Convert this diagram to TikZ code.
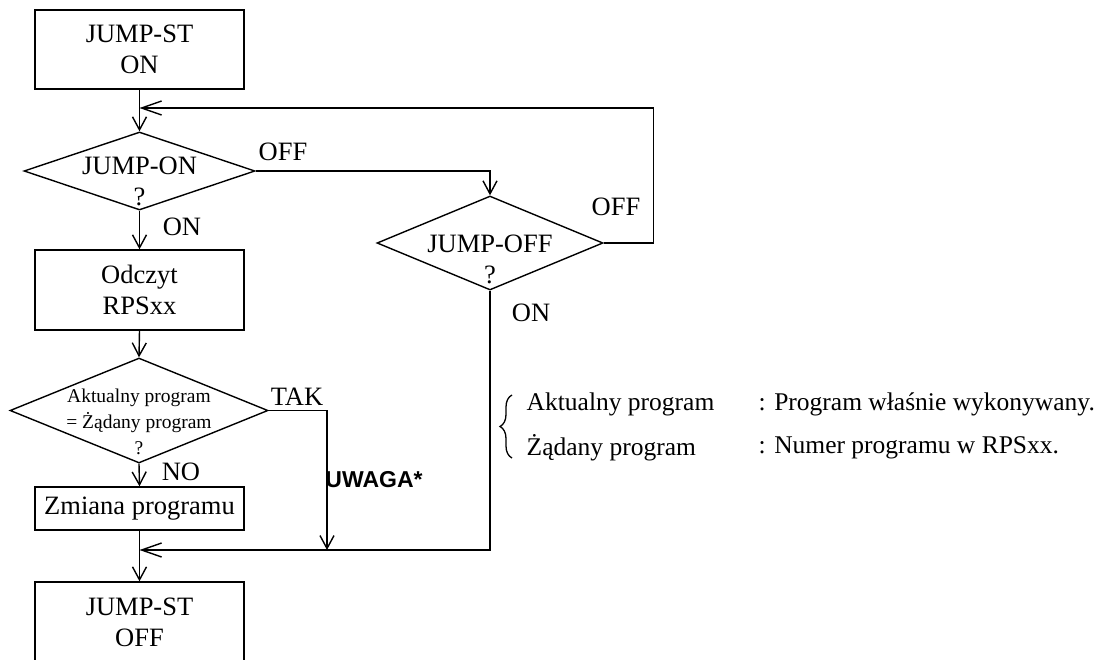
\documentclass[tikz,border=0pt]{standalone}
\usepackage{fontspec}
\setmainfont{Liberation Serif}
\newfontfamily\notefont{Liberation Sans}
\usetikzlibrary{shapes.geometric, arrows.meta, decorations.pathreplacing}

\begin{document}
\begin{tikzpicture}[x=1pt, y=-1pt, line width=1.4pt,
    box/.style={draw, rectangle, minimum width=209pt, inner sep=0pt, align=center, font=\fontsize{26.5}{31}\selectfont},
    decision/.style={draw, diamond, inner sep=0pt},
    dectext/.style={align=center, inner sep=0pt, font=\fontsize{26.5}{31}\selectfont},
    flowlabel/.style={inner sep=0pt, font=\fontsize{26.5}{31}\selectfont},
    legendtext/.style={inner sep=0pt, anchor=west, font=\fontsize{25.5}{30}\selectfont},
    flowarrow/.style={-{Straight Barb[length=13pt, width=14pt]}},
    mergearrow/.style={-{Straight Barb[length=20pt, width=14pt]}}]
    \useasboundingbox (0,0) rectangle (1103,659);

    % main column
    \node[box, minimum height=79pt] (start) at (139.5,49.5) {JUMP-ST\\ON};
    \coordinate (loopin) at (139.5,108);
    \node[decision, minimum width=231pt, minimum height=78pt] (jumpon) at (139.5,171) {};
    \node[dectext, yshift=-10pt] (jumpontxt) at (jumpon) {JUMP-ON\\?};
    \node[box, minimum height=80pt] (read) at (139.5,290) {Odczyt\\RPSxx};
    \node[decision, minimum width=258pt, minimum height=105pt] (prog) at (139,410.5) {};
    \node[dectext, yshift=-11pt, font=\fontsize{19.5}{26}\selectfont] (progtxt) at (prog) {Aktualny program\\= Żądany program\\?};
    \node[box, minimum height=43pt] (change) at (139.5,508.5) {Zmiana programu};
    \coordinate (merge) at (139.5,550);
    \node[box, minimum height=80pt] (stop) at (139.5,622) {JUMP-ST\\OFF};

    % side branch
    \node[decision, minimum width=226pt, minimum height=94pt] (jumpoff) at (490,243) {};
    \node[dectext, yshift=-16pt] (jumpofftxt) at (jumpoff) {JUMP-OFF\\?};
    \coordinate (takend) at (327,550);

    \draw[flowarrow] (start.south) -- (jumpon.north);
    \draw[flowarrow] (jumpon.south) -- (read.north);
    \draw[flowarrow] (read.south) -- (prog.north);
    \draw[flowarrow] (prog.south) -- (change.north);
    \draw[flowarrow] (change.south) -- (stop.north);
    \draw[flowarrow] (jumpon.east) -| (jumpoff.north);
    \draw[mergearrow] (jumpoff.east) -- ++(50,0) |- (loopin);
    \draw[mergearrow] (jumpoff.south) |- (merge);
    \draw[flowarrow] (prog.east) -| (takend);

    % labels on the lines
    \node[flowlabel] (offa) at (283,152) {OFF};
    \node[flowlabel] (ona) at (182,227) {ON};
    \node[flowlabel] (offb) at (616,207) {OFF};
    \node[flowlabel] (onb) at (531,313) {ON};
    \node[flowlabel] (tak) at (297,397) {TAK};
    \node[flowlabel] (no) at (181,472) {NO};
    \node[inner sep=0pt, font={\notefont\bfseries\fontsize{23}{26}\selectfont}] (uwaga) at (374,480) {UWAGA*};

    % legend
    \node[legendtext] (actual) at (526,404) {Aktualny program};
    \node[legendtext] (wanted) at (526,448) {Żądany program};
    \node[legendtext] (actualdef) at (758,404) {: Program właśnie wykonywany.};
    \node[legendtext] (wanteddef) at (758,448) {: Numer programu w RPSxx.};
    \coordinate (bracetop) at (512,395);
    \coordinate (bracebot) at (512,458);
    \draw[line width=1.3pt, decorate, decoration={brace, amplitude=12pt}] (bracebot) -- (bracetop);
\end{tikzpicture}
\end{document}
